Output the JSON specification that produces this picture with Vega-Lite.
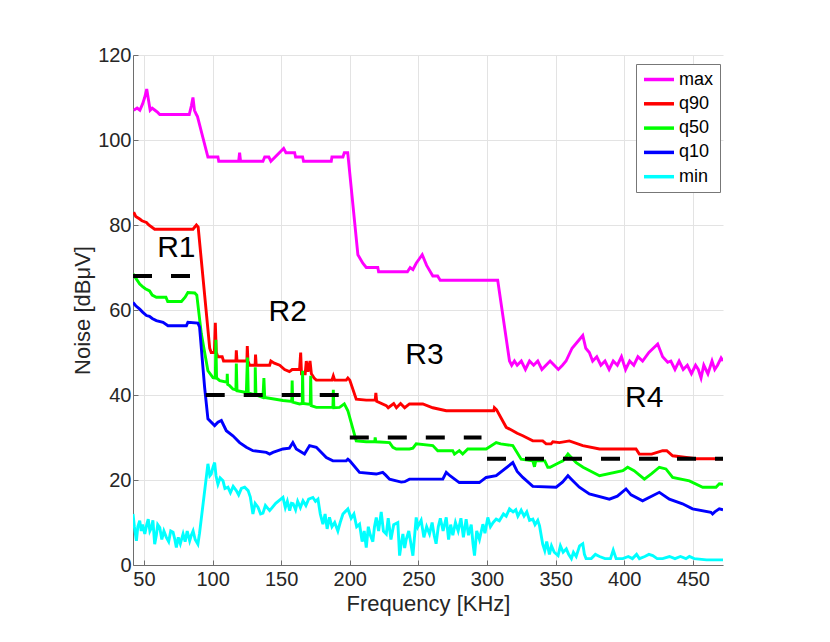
{
  "$schema": "https://vega.github.io/schema/vega-lite/v6.json",
  "width": 590,
  "height": 510,
  "autosize": "none",
  "padding": {"left": 133, "top": 55, "right": 107, "bottom": 77},
  "background": "white",
  "datasets": {
    "series": [
      {"s":"max","f":42.5,"v":107},{"s":"max","f":45,"v":107.5},{"s":"max","f":47,"v":107},{"s":"max","f":49,"v":108.5},{"s":"max","f":50.5,"v":110},{"s":"max","f":52,"v":112},{"s":"max","f":53.5,"v":109},{"s":"max","f":54.5,"v":107},{"s":"max","f":56,"v":107.5},{"s":"max","f":58,"v":107},{"s":"max","f":60,"v":106.5},{"s":"max","f":61.5,"v":106},{"s":"max","f":83,"v":106},{"s":"max","f":84.5,"v":108},{"s":"max","f":85.7,"v":110},{"s":"max","f":86.8,"v":107},{"s":"max","f":88.2,"v":106},{"s":"max","f":89,"v":105.5},{"s":"max","f":96.6,"v":96},{"s":"max","f":103.9,"v":96},{"s":"max","f":104.5,"v":95},{"s":"max","f":119,"v":95},{"s":"max","f":119.7,"v":97},{"s":"max","f":120.4,"v":95},{"s":"max","f":136.7,"v":95},{"s":"max","f":138,"v":96},{"s":"max","f":141,"v":96},{"s":"max","f":142.5,"v":95},{"s":"max","f":151.8,"v":98},{"s":"max","f":153.5,"v":97},{"s":"max","f":159.8,"v":97},{"s":"max","f":160.5,"v":96},{"s":"max","f":165.6,"v":96},{"s":"max","f":166.3,"v":95},{"s":"max","f":186.5,"v":95},{"s":"max","f":187,"v":96},{"s":"max","f":195,"v":96},{"s":"max","f":196,"v":97},{"s":"max","f":198.5,"v":97},{"s":"max","f":205.9,"v":73},{"s":"max","f":209.5,"v":71},{"s":"max","f":212,"v":70},{"s":"max","f":220.4,"v":70},{"s":"max","f":221,"v":69},{"s":"max","f":242,"v":69},{"s":"max","f":244,"v":70},{"s":"max","f":246,"v":69.5},{"s":"max","f":248.4,"v":71},{"s":"max","f":252.8,"v":73},{"s":"max","f":256,"v":70.5},{"s":"max","f":260.5,"v":68},{"s":"max","f":264,"v":68},{"s":"max","f":265.9,"v":67},{"s":"max","f":307.8,"v":67},{"s":"max","f":316.4,"v":48},{"s":"max","f":318,"v":47},{"s":"max","f":320,"v":48},{"s":"max","f":322,"v":47},{"s":"max","f":325,"v":48},{"s":"max","f":328,"v":46},{"s":"max","f":331,"v":48},{"s":"max","f":334,"v":47},{"s":"max","f":337,"v":48},{"s":"max","f":340,"v":46},{"s":"max","f":343,"v":47},{"s":"max","f":346,"v":48},{"s":"max","f":349,"v":47},{"s":"max","f":352,"v":46},{"s":"max","f":355,"v":47},{"s":"max","f":357.6,"v":48},{"s":"max","f":362,"v":51},{"s":"max","f":369.8,"v":54},{"s":"max","f":372,"v":51},{"s":"max","f":374.6,"v":50},{"s":"max","f":377,"v":48},{"s":"max","f":380,"v":49},{"s":"max","f":383,"v":47},{"s":"max","f":386,"v":48},{"s":"max","f":389,"v":46},{"s":"max","f":392,"v":48},{"s":"max","f":395,"v":47},{"s":"max","f":398,"v":49},{"s":"max","f":401,"v":46},{"s":"max","f":404,"v":48},{"s":"max","f":407,"v":47},{"s":"max","f":410,"v":49},{"s":"max","f":413.4,"v":48},{"s":"max","f":418,"v":50},{"s":"max","f":424.4,"v":52},{"s":"max","f":428,"v":49},{"s":"max","f":431.7,"v":47.7},{"s":"max","f":434,"v":48},{"s":"max","f":437,"v":46},{"s":"max","f":440,"v":48},{"s":"max","f":443,"v":46},{"s":"max","f":446,"v":47},{"s":"max","f":449,"v":45},{"s":"max","f":452,"v":47},{"s":"max","f":454,"v":46},{"s":"max","f":456,"v":44},{"s":"max","f":458,"v":47},{"s":"max","f":461,"v":45},{"s":"max","f":464,"v":48},{"s":"max","f":466,"v":46},{"s":"max","f":468,"v":47},{"s":"max","f":470.6,"v":48.7},{"s":"max","f":472,"v":48},

      {"s":"q90","f":42.5,"v":83},{"s":"q90","f":44,"v":82},{"s":"q90","f":46.9,"v":81.4},{"s":"q90","f":48.5,"v":81},{"s":"q90","f":51.8,"v":80.6},{"s":"q90","f":53.5,"v":80},{"s":"q90","f":57.8,"v":79},{"s":"q90","f":85.7,"v":79},{"s":"q90","f":88.2,"v":80},{"s":"q90","f":89.5,"v":79.5},{"s":"q90","f":97.9,"v":51},{"s":"q90","f":99,"v":50},{"s":"q90","f":101.3,"v":50},{"s":"q90","f":102,"v":57},{"s":"q90","f":102.7,"v":50},{"s":"q90","f":103.9,"v":49},{"s":"q90","f":107,"v":49},{"s":"q90","f":108,"v":48},{"s":"q90","f":117,"v":48},{"s":"q90","f":117.3,"v":50.5},{"s":"q90","f":117.8,"v":48},{"s":"q90","f":125,"v":48},{"s":"q90","f":125.3,"v":51.5},{"s":"q90","f":125.8,"v":48},{"s":"q90","f":127,"v":47},{"s":"q90","f":131,"v":47},{"s":"q90","f":131.3,"v":49.5},{"s":"q90","f":131.8,"v":47},{"s":"q90","f":141.6,"v":47},{"s":"q90","f":142.5,"v":48},{"s":"q90","f":145,"v":47.5},{"s":"q90","f":148.9,"v":47},{"s":"q90","f":152.5,"v":46},{"s":"q90","f":156,"v":45.5},{"s":"q90","f":158,"v":46},{"s":"q90","f":163.4,"v":46},{"s":"q90","f":164.2,"v":50},{"s":"q90","f":164.8,"v":45},{"s":"q90","f":167.5,"v":45},{"s":"q90","f":168.3,"v":48},{"s":"q90","f":169.5,"v":45.5},{"s":"q90","f":171,"v":48},{"s":"q90","f":172,"v":45},{"s":"q90","f":174,"v":44},{"s":"q90","f":175.6,"v":43.5},{"s":"q90","f":187,"v":43.5},{"s":"q90","f":188,"v":44.5},{"s":"q90","f":189,"v":43.5},{"s":"q90","f":197.4,"v":43.5},{"s":"q90","f":198.6,"v":44},{"s":"q90","f":200,"v":43.5},{"s":"q90","f":204.7,"v":39},{"s":"q90","f":212,"v":38.8},{"s":"q90","f":218.5,"v":38.8},{"s":"q90","f":219,"v":40.5},{"s":"q90","f":219.6,"v":38.5},{"s":"q90","f":226.6,"v":37.5},{"s":"q90","f":228,"v":37},{"s":"q90","f":232,"v":38},{"s":"q90","f":234,"v":37},{"s":"q90","f":237,"v":38},{"s":"q90","f":240,"v":37},{"s":"q90","f":243.5,"v":37.9},{"s":"q90","f":253.2,"v":37.9},{"s":"q90","f":260.5,"v":37},{"s":"q90","f":270.3,"v":36.3},{"s":"q90","f":305,"v":36.3},{"s":"q90","f":305.4,"v":37},{"s":"q90","f":307,"v":36.5},{"s":"q90","f":314,"v":32.4},{"s":"q90","f":318.8,"v":31.6},{"s":"q90","f":322,"v":31},{"s":"q90","f":326.1,"v":30.4},{"s":"q90","f":333.4,"v":29.2},{"s":"q90","f":340.6,"v":29.2},{"s":"q90","f":343.1,"v":28.5},{"s":"q90","f":346.7,"v":28.5},{"s":"q90","f":348,"v":29},{"s":"q90","f":352.8,"v":28.8},{"s":"q90","f":360,"v":29.2},{"s":"q90","f":369.8,"v":28.1},{"s":"q90","f":382,"v":27.3},{"s":"q90","f":408.6,"v":27.3},{"s":"q90","f":411,"v":26.1},{"s":"q90","f":420,"v":26.1},{"s":"q90","f":428,"v":26.9},{"s":"q90","f":431,"v":26.9},{"s":"q90","f":435.3,"v":25.7},{"s":"q90","f":452.3,"v":25},{"s":"q90","f":472,"v":25},

      {"s":"q50","f":42,"v":68.5},{"s":"q50","f":44,"v":67.5},{"s":"q50","f":46.9,"v":66.1},{"s":"q50","f":49,"v":65.5},{"s":"q50","f":51,"v":65},{"s":"q50","f":54.1,"v":64.5},{"s":"q50","f":56,"v":63.5},{"s":"q50","f":59,"v":63},{"s":"q50","f":66,"v":63},{"s":"q50","f":67.3,"v":62},{"s":"q50","f":77.3,"v":62},{"s":"q50","f":80,"v":63},{"s":"q50","f":82,"v":64.1},{"s":"q50","f":87,"v":64},{"s":"q50","f":88.5,"v":63.5},{"s":"q50","f":91.8,"v":54.4},{"s":"q50","f":96.6,"v":45.7},{"s":"q50","f":100.3,"v":44.1},{"s":"q50","f":102,"v":44},{"s":"q50","f":102.4,"v":53},{"s":"q50","f":102.9,"v":44},{"s":"q50","f":105.2,"v":43.4},{"s":"q50","f":110.5,"v":43},{"s":"q50","f":110.7,"v":45},{"s":"q50","f":111,"v":42.5},{"s":"q50","f":112.4,"v":42.2},{"s":"q50","f":114.8,"v":41.4},{"s":"q50","f":117,"v":41.2},{"s":"q50","f":117.3,"v":47.4},{"s":"q50","f":117.8,"v":41},{"s":"q50","f":124.6,"v":40.6},{"s":"q50","f":125.4,"v":48.8},{"s":"q50","f":126,"v":40.5},{"s":"q50","f":131,"v":40},{"s":"q50","f":131.1,"v":46.5},{"s":"q50","f":131.6,"v":40},{"s":"q50","f":136.7,"v":39.4},{"s":"q50","f":137.4,"v":44},{"s":"q50","f":138,"v":39.4},{"s":"q50","f":151.3,"v":38.7},{"s":"q50","f":157.7,"v":38.5},{"s":"q50","f":158,"v":43.4},{"s":"q50","f":158.4,"v":38.3},{"s":"q50","f":163.4,"v":37.9},{"s":"q50","f":165.4,"v":38},{"s":"q50","f":165.6,"v":45.7},{"s":"q50","f":166,"v":38},{"s":"q50","f":171.2,"v":37.8},{"s":"q50","f":171.5,"v":44.5},{"s":"q50","f":171.9,"v":37.5},{"s":"q50","f":175.6,"v":37.1},{"s":"q50","f":187.7,"v":37.1},{"s":"q50","f":188,"v":41.2},{"s":"q50","f":188.4,"v":37},{"s":"q50","f":192.5,"v":37.1},{"s":"q50","f":196,"v":37.9},{"s":"q50","f":198.6,"v":36.3},{"s":"q50","f":204.7,"v":29.2},{"s":"q50","f":212,"v":29},{"s":"q50","f":218.2,"v":29},{"s":"q50","f":218.5,"v":30},{"s":"q50","f":219,"v":29},{"s":"q50","f":229,"v":28.8},{"s":"q50","f":231.4,"v":27.7},{"s":"q50","f":233.9,"v":27.3},{"s":"q50","f":243.5,"v":27.3},{"s":"q50","f":246,"v":27.5},{"s":"q50","f":248.4,"v":28.5},{"s":"q50","f":260.5,"v":28.1},{"s":"q50","f":264.1,"v":26.9},{"s":"q50","f":275,"v":26.9},{"s":"q50","f":276.3,"v":26.1},{"s":"q50","f":279.8,"v":26.9},{"s":"q50","f":282.3,"v":26.1},{"s":"q50","f":286,"v":27.3},{"s":"q50","f":299.4,"v":27.3},{"s":"q50","f":306.7,"v":28.8},{"s":"q50","f":310,"v":28.5},{"s":"q50","f":318.8,"v":28.1},{"s":"q50","f":324.9,"v":24.9},{"s":"q50","f":333.4,"v":24.5},{"s":"q50","f":334.6,"v":23.1},{"s":"q50","f":335.5,"v":24.5},{"s":"q50","f":342.1,"v":24.5},{"s":"q50","f":344.3,"v":23},{"s":"q50","f":346,"v":23},{"s":"q50","f":352.8,"v":24.1},{"s":"q50","f":355.4,"v":24.5},{"s":"q50","f":359,"v":26.1},{"s":"q50","f":365,"v":24.1},{"s":"q50","f":370,"v":23},{"s":"q50","f":382,"v":21},{"s":"q50","f":399,"v":22.2},{"s":"q50","f":402.5,"v":23},{"s":"q50","f":407.2,"v":22.2},{"s":"q50","f":414.7,"v":20.2},{"s":"q50","f":420,"v":21.5},{"s":"q50","f":425.6,"v":23},{"s":"q50","f":430.4,"v":22.6},{"s":"q50","f":435.3,"v":20.6},{"s":"q50","f":447.5,"v":19.8},{"s":"q50","f":457.2,"v":18.3},{"s":"q50","f":466.9,"v":18.3},{"s":"q50","f":469.3,"v":19.1},{"s":"q50","f":472,"v":19},

      {"s":"q10","f":42,"v":61.8},{"s":"q10","f":44,"v":61},{"s":"q10","f":46.9,"v":60.2},{"s":"q10","f":49,"v":59.5},{"s":"q10","f":51.8,"v":58.7},{"s":"q10","f":54,"v":58.5},{"s":"q10","f":56,"v":58},{"s":"q10","f":59,"v":57.5},{"s":"q10","f":63.9,"v":57.1},{"s":"q10","f":67.5,"v":56.3},{"s":"q10","f":80.9,"v":56.3},{"s":"q10","f":82,"v":57.1},{"s":"q10","f":89.3,"v":56.9},{"s":"q10","f":90.5,"v":56},{"s":"q10","f":94.2,"v":41.8},{"s":"q10","f":96.6,"v":34.4},{"s":"q10","f":101.5,"v":32.8},{"s":"q10","f":103.9,"v":33.6},{"s":"q10","f":106.4,"v":34},{"s":"q10","f":110,"v":31.6},{"s":"q10","f":114.8,"v":30.4},{"s":"q10","f":119.7,"v":28.8},{"s":"q10","f":124.6,"v":27.7},{"s":"q10","f":129.4,"v":26.9},{"s":"q10","f":139.2,"v":26.5},{"s":"q10","f":141.6,"v":26.1},{"s":"q10","f":144,"v":26.5},{"s":"q10","f":151.3,"v":27.3},{"s":"q10","f":156,"v":27.5},{"s":"q10","f":158.5,"v":28.8},{"s":"q10","f":161,"v":27.3},{"s":"q10","f":167,"v":26.1},{"s":"q10","f":170.7,"v":28.1},{"s":"q10","f":175.6,"v":27.7},{"s":"q10","f":182.9,"v":25.3},{"s":"q10","f":187.7,"v":24.5},{"s":"q10","f":197.4,"v":24.5},{"s":"q10","f":198.6,"v":24.9},{"s":"q10","f":200,"v":24.5},{"s":"q10","f":207.1,"v":21.8},{"s":"q10","f":219.3,"v":21.4},{"s":"q10","f":224,"v":21.8},{"s":"q10","f":226,"v":21.2},{"s":"q10","f":229,"v":20.2},{"s":"q10","f":237.5,"v":19.5},{"s":"q10","f":240,"v":19.6},{"s":"q10","f":243.5,"v":20.2},{"s":"q10","f":267.8,"v":20.2},{"s":"q10","f":270.3,"v":21.8},{"s":"q10","f":273,"v":21},{"s":"q10","f":279.8,"v":19.4},{"s":"q10","f":294.4,"v":19.4},{"s":"q10","f":299.4,"v":20.6},{"s":"q10","f":306.7,"v":21},{"s":"q10","f":318.8,"v":24.1},{"s":"q10","f":322,"v":22},{"s":"q10","f":326.1,"v":20.6},{"s":"q10","f":333.4,"v":18.5},{"s":"q10","f":350.4,"v":18.3},{"s":"q10","f":355,"v":19.5},{"s":"q10","f":359,"v":21},{"s":"q10","f":362,"v":20},{"s":"q10","f":367.3,"v":18.3},{"s":"q10","f":374.6,"v":16.7},{"s":"q10","f":389.2,"v":15.5},{"s":"q10","f":395,"v":16.2},{"s":"q10","f":401.3,"v":17.9},{"s":"q10","f":405,"v":16.5},{"s":"q10","f":413.4,"v":15.1},{"s":"q10","f":425.6,"v":17.1},{"s":"q10","f":432.9,"v":15.5},{"s":"q10","f":442.5,"v":14.4},{"s":"q10","f":449.8,"v":13.2},{"s":"q10","f":463.2,"v":12.4},{"s":"q10","f":464.4,"v":12},{"s":"q10","f":466,"v":12.5},{"s":"q10","f":469.3,"v":13.2},{"s":"q10","f":472,"v":13},

      {"s":"min","f":42,"v":12},{"s":"min","f":43,"v":9},{"s":"min","f":44.5,"v":5.7},{"s":"min","f":45.5,"v":9},{"s":"min","f":46.9,"v":10.4},{"s":"min","f":48,"v":8},{"s":"min","f":49,"v":9.5},{"s":"min","f":50.6,"v":7.3},{"s":"min","f":52,"v":9.5},{"s":"min","f":53.1,"v":10.8},{"s":"min","f":54.3,"v":8},{"s":"min","f":55.5,"v":8.8},{"s":"min","f":56.5,"v":10.5},{"s":"min","f":57.8,"v":4.9},{"s":"min","f":59,"v":7},{"s":"min","f":60,"v":9.5},{"s":"min","f":61.5,"v":8.8},{"s":"min","f":63,"v":6},{"s":"min","f":64.5,"v":8},{"s":"min","f":66.3,"v":6.5},{"s":"min","f":68,"v":5.5},{"s":"min","f":69.5,"v":8},{"s":"min","f":71.2,"v":7.7},{"s":"min","f":72.5,"v":6},{"s":"min","f":73.6,"v":4.1},{"s":"min","f":75,"v":6.5},{"s":"min","f":76.5,"v":5},{"s":"min","f":78.5,"v":7.3},{"s":"min","f":80,"v":5.5},{"s":"min","f":81.5,"v":8},{"s":"min","f":83.3,"v":5.7},{"s":"min","f":84.5,"v":7},{"s":"min","f":85.8,"v":8},{"s":"min","f":87.3,"v":6},{"s":"min","f":89.3,"v":4.9},{"s":"min","f":90.5,"v":7.5},{"s":"min","f":96.6,"v":23.8},{"s":"min","f":98,"v":21},{"s":"min","f":99,"v":21.4},{"s":"min","f":100.3,"v":23},{"s":"min","f":101.5,"v":24.1},{"s":"min","f":102.5,"v":21},{"s":"min","f":103.9,"v":19},{"s":"min","f":105.5,"v":20.5},{"s":"min","f":107.6,"v":19.8},{"s":"min","f":109,"v":18},{"s":"min","f":111.2,"v":18.3},{"s":"min","f":113,"v":17},{"s":"min","f":115,"v":18.5},{"s":"min","f":117.3,"v":17.5},{"s":"min","f":119,"v":16.5},{"s":"min","f":121,"v":18},{"s":"min","f":123.4,"v":18.3},{"s":"min","f":125.9,"v":17.5},{"s":"min","f":127.5,"v":16},{"s":"min","f":129.4,"v":12},{"s":"min","f":131,"v":14.5},{"s":"min","f":133.1,"v":13.6},{"s":"min","f":135,"v":12},{"s":"min","f":136.7,"v":12.2},{"s":"min","f":138.5,"v":14},{"s":"min","f":141.6,"v":12.8},{"s":"min","f":146,"v":14.5},{"s":"min","f":151.3,"v":15.9},{"s":"min","f":153,"v":13.5},{"s":"min","f":154.5,"v":15},{"s":"min","f":156.2,"v":12.8},{"s":"min","f":157.5,"v":14.5},{"s":"min","f":158.7,"v":14.4},{"s":"min","f":160.5,"v":13},{"s":"min","f":162,"v":15},{"s":"min","f":164,"v":13.5},{"s":"min","f":165.9,"v":15.1},{"s":"min","f":168,"v":14},{"s":"min","f":170,"v":15.5},{"s":"min","f":173.1,"v":15.9},{"s":"min","f":175,"v":15},{"s":"min","f":176.8,"v":15.5},{"s":"min","f":178.5,"v":12},{"s":"min","f":180.4,"v":9.6},{"s":"min","f":182,"v":12},{"s":"min","f":183.5,"v":8.5},{"s":"min","f":185.2,"v":11.2},{"s":"min","f":187,"v":9},{"s":"min","f":189,"v":10},{"s":"min","f":191.3,"v":8},{"s":"min","f":193,"v":10},{"s":"min","f":195,"v":12},{"s":"min","f":196.5,"v":12.5},{"s":"min","f":198.6,"v":13.2},{"s":"min","f":201,"v":11},{"s":"min","f":203,"v":12},{"s":"min","f":205,"v":9},{"s":"min","f":207.1,"v":9.6},{"s":"min","f":209,"v":5.5},{"s":"min","f":210.5,"v":8},{"s":"min","f":212,"v":4.1},{"s":"min","f":213.5,"v":9},{"s":"min","f":215,"v":7},{"s":"min","f":216.8,"v":5.5},{"s":"min","f":218,"v":9},{"s":"min","f":219.3,"v":11.2},{"s":"min","f":221,"v":8},{"s":"min","f":222.9,"v":12.5},{"s":"min","f":224.5,"v":8},{"s":"min","f":226.6,"v":7.3},{"s":"min","f":228,"v":11},{"s":"min","f":230,"v":6},{"s":"min","f":232,"v":9.5},{"s":"min","f":235,"v":10},{"s":"min","f":236.3,"v":2.2},{"s":"min","f":237.5,"v":5},{"s":"min","f":238.7,"v":7.3},{"s":"min","f":240,"v":4},{"s":"min","f":241.1,"v":6},{"s":"min","f":243,"v":8},{"s":"min","f":246,"v":2.2},{"s":"min","f":247,"v":6},{"s":"min","f":248.4,"v":11.2},{"s":"min","f":249.6,"v":9},{"s":"min","f":252,"v":10.5},{"s":"min","f":254,"v":6.5},{"s":"min","f":256,"v":9},{"s":"min","f":258.1,"v":7.3},{"s":"min","f":260,"v":10},{"s":"min","f":261.5,"v":7},{"s":"min","f":262.9,"v":5},{"s":"min","f":264.5,"v":9},{"s":"min","f":266,"v":11},{"s":"min","f":268,"v":8},{"s":"min","f":270.3,"v":11.2},{"s":"min","f":272,"v":6},{"s":"min","f":273.5,"v":9.5},{"s":"min","f":275.1,"v":7},{"s":"min","f":277,"v":10},{"s":"min","f":279,"v":8},{"s":"min","f":281,"v":11},{"s":"min","f":282.8,"v":6.5},{"s":"min","f":284.8,"v":10.8},{"s":"min","f":286.5,"v":7},{"s":"min","f":288.5,"v":9.5},{"s":"min","f":289.8,"v":5},{"s":"min","f":290.9,"v":2.2},{"s":"min","f":292.5,"v":8},{"s":"min","f":294.5,"v":6},{"s":"min","f":297,"v":9.6},{"s":"min","f":298.5,"v":7.5},{"s":"min","f":300.6,"v":11.2},{"s":"min","f":302.5,"v":9},{"s":"min","f":304.5,"v":10},{"s":"min","f":306.7,"v":10.8},{"s":"min","f":309,"v":10.4},{"s":"min","f":312,"v":12},{"s":"min","f":314,"v":11.5},{"s":"min","f":316.4,"v":13.2},{"s":"min","f":319,"v":12.5},{"s":"min","f":321,"v":13},{"s":"min","f":322.5,"v":11.5},{"s":"min","f":324.9,"v":12.9},{"s":"min","f":327,"v":11.5},{"s":"min","f":329,"v":12.5},{"s":"min","f":331,"v":10.5},{"s":"min","f":333.4,"v":10.8},{"s":"min","f":335,"v":9.5},{"s":"min","f":337,"v":10.5},{"s":"min","f":338.3,"v":9.2},{"s":"min","f":340.6,"v":4.9},{"s":"min","f":342.1,"v":3.4},{"s":"min","f":343.5,"v":5.5},{"s":"min","f":345.5,"v":2.5},{"s":"min","f":347,"v":4.5},{"s":"min","f":349,"v":3},{"s":"min","f":351.8,"v":2.2},{"s":"min","f":353.5,"v":4.5},{"s":"min","f":355.5,"v":3},{"s":"min","f":357.8,"v":3.8},{"s":"min","f":359.5,"v":2.5},{"s":"min","f":361.5,"v":1.5},{"s":"min","f":363,"v":3},{"s":"min","f":365,"v":2},{"s":"min","f":367.5,"v":4.5},{"s":"min","f":369.8,"v":5},{"s":"min","f":371,"v":2.5},{"s":"min","f":372.2,"v":1.5},{"s":"min","f":376,"v":1.5},{"s":"min","f":379,"v":2.5},{"s":"min","f":382,"v":2},{"s":"min","f":386,"v":1.5},{"s":"min","f":390,"v":1.5},{"s":"min","f":392,"v":3.5},{"s":"min","f":394.1,"v":1.5},{"s":"min","f":399,"v":1.5},{"s":"min","f":403,"v":2},{"s":"min","f":406,"v":1.5},{"s":"min","f":409,"v":2.5},{"s":"min","f":411.1,"v":1.5},{"s":"min","f":415,"v":2},{"s":"min","f":418,"v":2.5},{"s":"min","f":420.8,"v":2.2},{"s":"min","f":424,"v":1.5},{"s":"min","f":428,"v":1.5},{"s":"min","f":433,"v":2},{"s":"min","f":437,"v":1.5},{"s":"min","f":441,"v":2},{"s":"min","f":445,"v":1.5},{"s":"min","f":447.5,"v":2},{"s":"min","f":451,"v":1.5},{"s":"min","f":460,"v":1.2},{"s":"min","f":472,"v":1.2}
    ],
    "regions": [
      {"seg":"R1","f":42,"v":68},{"seg":"R1","f":84,"v":68},
      {"seg":"R2","f":95,"v":40},{"seg":"R2","f":192,"v":40},
      {"seg":"R3","f":200,"v":30},{"seg":"R3","f":296,"v":30},
      {"seg":"R4","f":300,"v":25},{"seg":"R4","f":472,"v":25}
    ],
    "labels": [
      {"t":"R1","f":73.6,"v":74.7},
      {"t":"R2","f":154.7,"v":59.5},
      {"t":"R3","f":254.4,"v":49.5},
      {"t":"R4","f":414.6,"v":39.4}
    ]
  },
  "layer": [
    {
      "data": {"name": "series"},
      "mark": {"type": "line", "strokeWidth": 2.9, "clip": true},
      "encoding": {
        "x": {"field": "f", "type": "quantitative"},
        "y": {"field": "v", "type": "quantitative"},
        "color": {
          "field": "s",
          "type": "nominal",
          "scale": {
            "domain": ["max", "q90", "q50", "q10", "min"],
            "range": ["#ff00ff", "#ff0000", "#00ff00", "#0000ff", "#00ffff"]
          },
          "legend": {
            "title": null,
            "orient": "none",
            "legendX": 503,
            "legendY": 9,
            "symbolType": "M-1,0H3",
            "symbolSize": 225,
            "symbolStrokeWidth": 3.5,
            "labelFontSize": 18,
            "labelOffset": 18,
            "rowPadding": 5.3,
            "padding": 6,
            "strokeColor": "#777777",
            "fillColor": "white"
          }
        }
      }
    },
    {
      "data": {"name": "regions"},
      "mark": {"type": "line", "color": "black", "strokeWidth": 4, "strokeDash": [19, 19], "strokeCap": "butt"},
      "encoding": {
        "x": {"field": "f", "type": "quantitative"},
        "y": {"field": "v", "type": "quantitative"},
        "detail": {"field": "seg"}
      }
    },
    {
      "data": {"name": "labels"},
      "mark": {"type": "text", "fontSize": 30, "color": "black", "align": "center", "baseline": "middle"},
      "encoding": {
        "x": {"field": "f", "type": "quantitative"},
        "y": {"field": "v", "type": "quantitative"},
        "text": {"field": "t"}
      }
    }
  ],
  "encoding": {
    "x": {
      "field": "f",
      "type": "quantitative",
      "title": "Frequency [KHz]",
      "scale": {"domain": [42, 472], "nice": false, "zero": false},
      "axis": {"values": [50, 100, 150, 200, 250, 300, 350, 400, 450]}
    },
    "y": {
      "field": "v",
      "type": "quantitative",
      "title": "Noise [dB\u03bcV]",
      "scale": {"domain": [0, 120], "nice": false},
      "axis": {"values": [0, 20, 40, 60, 80, 100, 120]}
    }
  },
  "config": {
    "font": "Liberation Sans",
    "view": {"stroke": null},
    "axis": {
      "grid": true,
      "gridColor": "#e3e3e3",
      "domainColor": "#6e6e6e",
      "tickColor": "#6e6e6e",
      "tickSize": -5,
      "labelFontSize": 20,
      "labelColor": "#262626",
      "titleFontSize": 22,
      "titleFontWeight": "normal",
      "titleColor": "#262626"
    },
    "axisX": {"labelPadding": 9, "titlePadding": 4},
    "axisY": {"labelPadding": 7, "titlePadding": 3},
    "legend": {"labelColor": "#000000", "labelFont": "Liberation Sans"}
  }
}
